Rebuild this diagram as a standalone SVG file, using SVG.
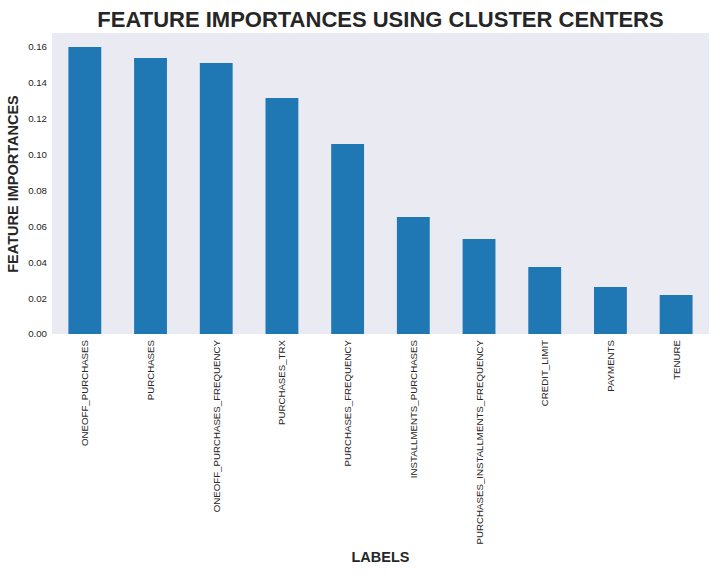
<svg xmlns="http://www.w3.org/2000/svg" width="720" height="576" viewBox="0 0 720 576">
<style>
.tick{font-family:"Liberation Sans",Arial,sans-serif;font-size:9.7px;fill:#262626}
.bar{fill:#1f77b4}
.lab{font-family:"Liberation Sans",Arial,sans-serif;font-weight:bold;font-size:14.5px;fill:#262626}
.title{font-family:"Liberation Sans",Arial,sans-serif;font-weight:bold;font-size:22px;fill:#262626}
</style>
<rect x="0" y="0" width="720" height="576" fill="#ffffff"/>
<rect id="axes" x="52" y="33" width="657" height="301" fill="#eaeaf2"/>
<text class="title" x="380.5" y="26.7" text-anchor="middle">FEATURE IMPORTANCES USING CLUSTER CENTERS</text>
<g id="yticks" text-anchor="end">
<text class="tick" x="47" y="337.4">0.00</text>
<text class="tick" x="47" y="301.5">0.02</text>
<text class="tick" x="47" y="265.6">0.04</text>
<text class="tick" x="47" y="229.7">0.06</text>
<text class="tick" x="47" y="193.8">0.08</text>
<text class="tick" x="47" y="157.9">0.10</text>
<text class="tick" x="47" y="122.0">0.12</text>
<text class="tick" x="47" y="86.1">0.14</text>
<text class="tick" x="47" y="50.2">0.16</text>
</g>
<g id="bars">
<rect class="bar" x="68.4" y="47" width="32.85" height="287"/>
<rect class="bar" x="134.1" y="58" width="32.85" height="276"/>
<rect class="bar" x="199.8" y="63" width="32.85" height="271"/>
<rect class="bar" x="265.5" y="98" width="32.85" height="236"/>
<rect class="bar" x="331.2" y="144" width="32.85" height="190"/>
<rect class="bar" x="396.9" y="217" width="32.85" height="117"/>
<rect class="bar" x="462.6" y="239" width="32.85" height="95"/>
<rect class="bar" x="528.3" y="267" width="32.85" height="67"/>
<rect class="bar" x="594.0" y="287" width="32.85" height="47"/>
<rect class="bar" x="659.7" y="295" width="32.85" height="39"/>
</g>
<g id="xticks" text-anchor="end">
<text class="tick" transform="translate(88.3,340) rotate(-90)">ONEOFF_PURCHASES</text>
<text class="tick" transform="translate(154,340) rotate(-90)">PURCHASES</text>
<text class="tick" transform="translate(219.7,340) rotate(-90)">ONEOFF_PURCHASES_FREQUENCY</text>
<text class="tick" transform="translate(285.4,340) rotate(-90)">PURCHASES_TRX</text>
<text class="tick" transform="translate(351.1,340) rotate(-90)">PURCHASES_FREQUENCY</text>
<text class="tick" transform="translate(416.8,340) rotate(-90)">INSTALLMENTS_PURCHASES</text>
<text class="tick" transform="translate(482.5,340) rotate(-90)">PURCHASES_INSTALLMENTS_FREQUENCY</text>
<text class="tick" transform="translate(548.2,340) rotate(-90)">CREDIT_LIMIT</text>
<text class="tick" transform="translate(613.9,340) rotate(-90)">PAYMENTS</text>
<text class="tick" transform="translate(679.6,340) rotate(-90)">TENURE</text>
</g>
<text class="lab" x="380.5" y="562.3" text-anchor="middle">LABELS</text>
<text class="lab" transform="translate(18.3,184) rotate(-90)" text-anchor="middle">FEATURE IMPORTANCES</text>
</svg>
